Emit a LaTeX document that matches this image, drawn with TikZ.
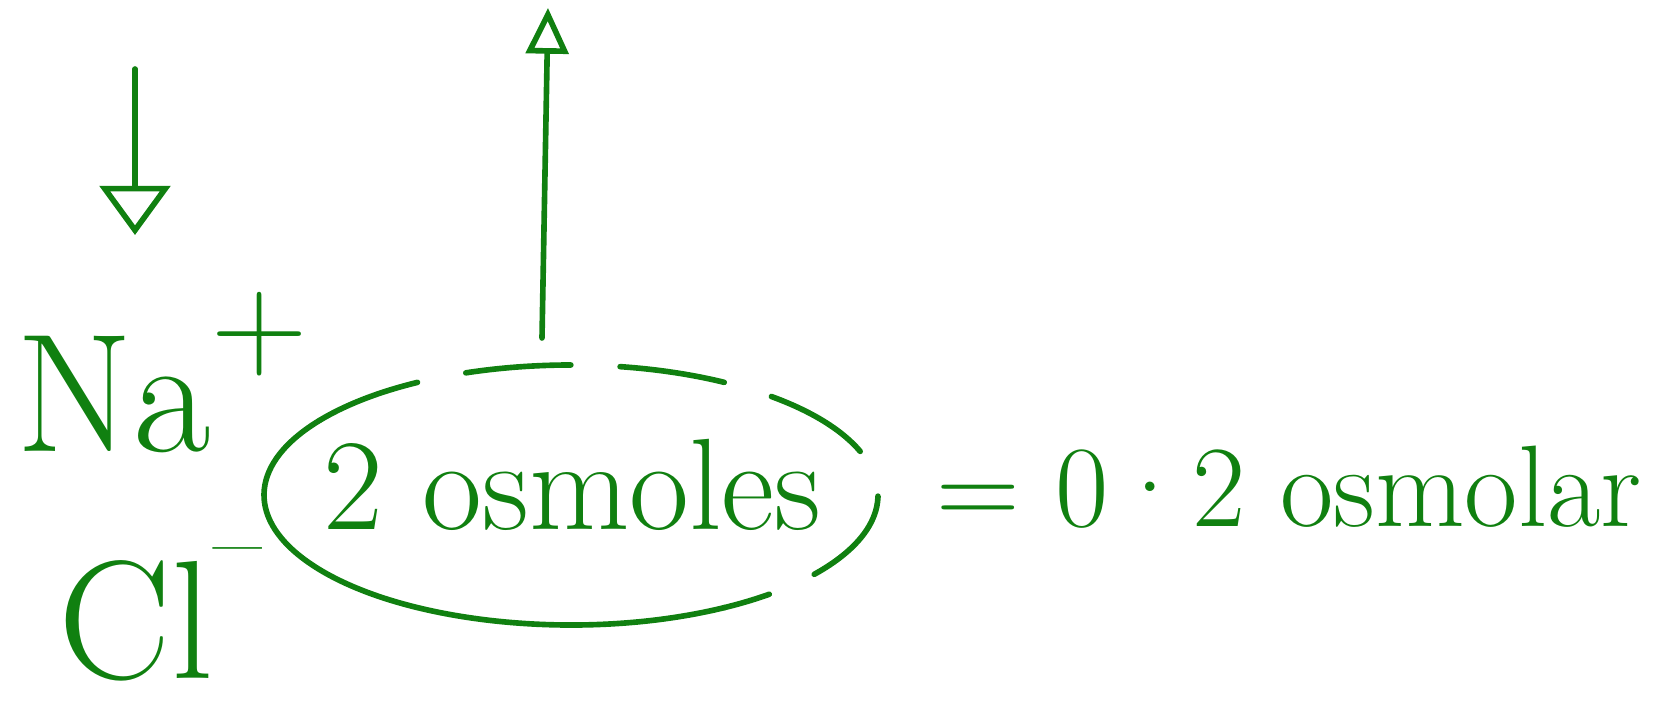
\documentclass[tikz,border=0pt]{standalone}
\usepackage{tikz}
\usetikzlibrary{arrows.meta}
\usetikzlibrary{positioning}
\usetikzlibrary{calc}
\definecolor{penGreen}{RGB}{16,128,16}

\begin{document}
\begin{tikzpicture}[
    x=0.01cm, y=-0.01cm,
    % pen strokes
    ink/.style={draw=penGreen, line width=1.6pt, line cap=round},
    inkdash/.style={ink, dash pattern=on 30pt off 14pt},
    fall/.style={ink, -{Triangle[open, width=20pt, length=14pt]}},
    rise/.style={ink, -{Triangle[open, width=12pt, length=13pt]}},
    % written words
    ion/.style={text=penGreen, font=\fontsize{48}{56}\selectfont, inner sep=0pt},
    word/.style={text=penGreen, font=\fontsize{37}{44}\selectfont, inner sep=0pt},
    sum/.style={text=penGreen, font=\fontsize{33}{40}\selectfont, inner sep=0pt},
]
\useasboundingbox (0,0) rectangle (1659,715);

% =========================================================
% ions on the left
% =========================================================
\node[ion, anchor=base west] (na) at (16,452)
    {Na\raisebox{0.5em}{\fontsize{38}{38}\selectfont +}};
\node[ion, anchor=base west] (cl) at (58,678)
    {Cl\raisebox{0.6em}{\fontsize{30}{30}\selectfont\textendash}};

% arrow coming down above Na+
\coordinate (dropTop) at (135,69);
\coordinate (dropEnd) at (135,235);
\draw[fall] (dropTop) -- (dropEnd);

% =========================================================
% circled amount and result
% =========================================================
\coordinate (ring) at (571,495);
\node[word, anchor=base west] (osm) at (323,529) {2 osmoles};
\node[sum, anchor=base west] (res) at (936,526) {= 0·2 osmolar};

% ring round the amount (solid on the left, dashed on the right)
\draw[ink] (ring) ++(60:307 and 130)
    arc[start angle=60, end angle=215, x radius=307, y radius=130];
\draw[inkdash] (ring) ++(215:307 and 130)
    arc[start angle=215, end angle=420, x radius=307, y radius=130];

% arrow rising from the ring
\coordinate (stem) at (542,338);
\coordinate (stemTip) at (548,8);
\draw[rise] (stem) -- (stemTip);

\end{tikzpicture}
\end{document}
